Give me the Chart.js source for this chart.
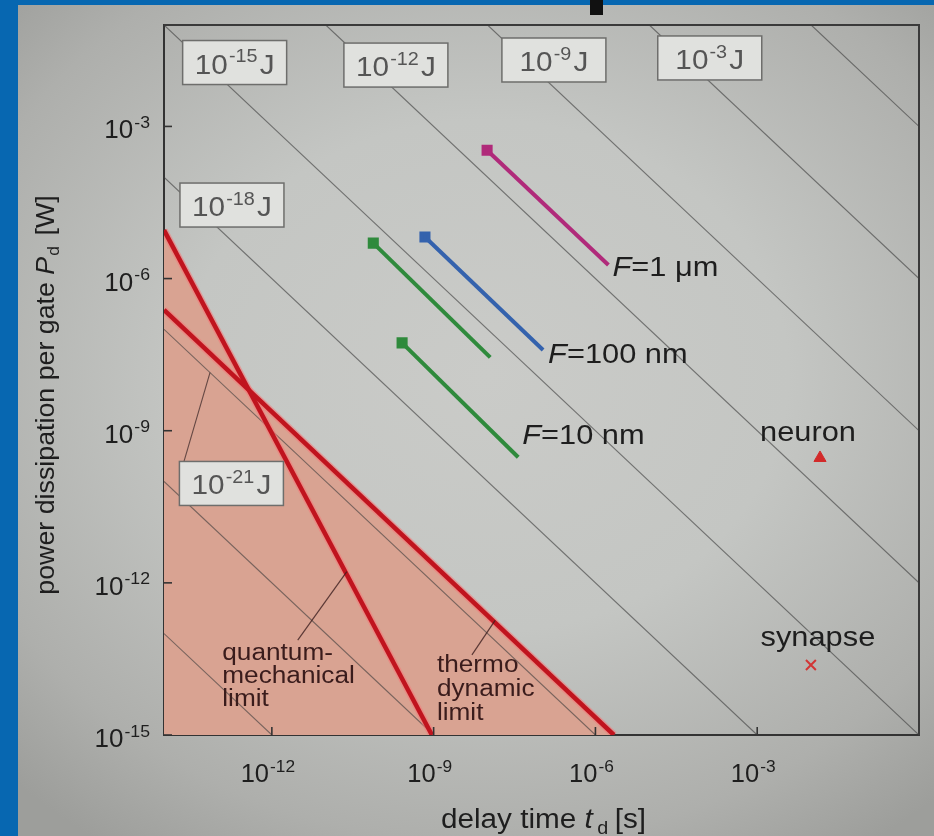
<!DOCTYPE html>
<html><head><meta charset="utf-8">
<script src="https://cdn.jsdelivr.net/npm/chart.js@4.4.1/dist/chart.umd.min.js"></script>
<style>
html,body{margin:0;padding:0;}
body{width:934px;height:836px;overflow:hidden;position:relative;
background:radial-gradient(ellipse 72% 68% at 52% 45%, #cacbc8 0%, #c4c6c3 45%, #aeafac 82%, #9d9e9b 100%);}
#blueL{position:absolute;left:0;top:0;width:18px;height:836px;background:#0767b1;}
#blueT{position:absolute;left:0;top:0;width:934px;height:5px;background:#0767b1;}
#blob{position:absolute;left:590px;top:0;width:13px;height:15px;background:#111;}
canvas{position:absolute;left:0;top:0;}
</style></head><body>
<div id="blueL"></div><div id="blueT"></div><div id="blob"></div>
<canvas id="c" width="934" height="836"></canvas>
<script>
// ---------------- data ----------------
const xTickExps = [-12, -9, -6, -3];
const yTickExps = [-3, -6, -9, -12, -15];

// constant-energy lines (J), endpoints where they meet the frame
const energyValues = [1e-27, 1e-24, 1e-21, 1e-18, 1e-15, 1e-12, 1e-9, 1e-6, 1e-3];
const energyStartT = [1e-14, 1e-14, 1e-14, 1e-14, 1e-14, 1e-11, 1e-8, 1e-5, 1e-2];
const energyStartP = [1e-13, 1e-10, 1e-7, 1e-4, 1e-1, 1e-1, 1e-1, 1e-1, 1e-1];
const energyEndT   = [1e-12, 1e-9, 1e-6, 1e-3, 1e0, 1e0, 1e0, 1e0, 1e0];
const energyEndP   = [1e-15, 1e-15, 1e-15, 1e-15, 1e-15, 1e-12, 1e-9, 1e-6, 1e-3];

// energy label boxes (exponent text as printed)
const energyBoxExp = ['-21', '-18', '-15', '-12', '-9', '-3'];

// limits
const qmLimitT = [1e-14, 9.3e-10];
const qmLimitP = [9e-6, 1e-15];
const thermoLimitT = [1e-14, 2.2e-6];
const thermoLimitP = [2.4e-7, 1e-15];

// technology lines
const techNames  = ['1 μm', '100 nm', '10 nm', '10 nm'];
const techColors = ['#b02a7a', '#3462ad', '#2f8a3c', '#2f8a3c'];
const techStartT = [9.8e-9, 6.9e-10, 7.6e-11, 2.6e-10];
const techStartP = [3.4e-4, 6.6e-6, 5.0e-6, 5.4e-8];
const techEndT   = [1.74e-6, 1.07e-7, 1.12e-8, 3.7e-8];
const techEndP   = [1.85e-6, 3.9e-8, 2.8e-8, 3.0e-10];

// biological references
const bioNames = ['neuron', 'synapse'];
const bioT = [1.46e-2, 9.9e-3];
const bioP = [2.9e-10, 2.4e-14];

// ---------------- layout (positions in log10 data space) ----------------
const boxLogT = [-12.75, -12.74, -12.69, -9.70, -6.77, -3.88];
const boxLogP = [-10.04, -4.55, -1.74, -1.79, -1.69, -1.65];
const FONT = '"Liberation Sans", Arial, Helvetica, sans-serif';

// ---------------- datasets ----------------
const datasets = [];
energyValues.forEach((e, i) => {
  datasets.push({
    data: [{x: energyStartT[i], y: energyStartP[i]}, {x: energyEndT[i], y: energyEndP[i]}],
    showLine: true, borderColor: 'rgba(60,60,60,0.62)', borderWidth: 1.1,
    pointRadius: 0, fill: false, order: 6
  });
});
const qmData = qmLimitT.map((t, i) => ({x: t, y: qmLimitP[i]}));
const thData = thermoLimitT.map((t, i) => ({x: t, y: thermoLimitP[i]}));
[qmData, thData].forEach(d => {
  datasets.push({data: d, showLine: true, borderColor: 'rgba(0,0,0,0)', borderWidth: 0,
    pointRadius: 0, fill: 'start', backgroundColor: '#d9a392', order: 7});
  datasets.push({data: d, showLine: true, borderColor: 'rgba(245,120,120,0.55)', borderWidth: 7.5,
    pointRadius: 0, fill: false, order: 4});
  datasets.push({data: d, showLine: true, borderColor: '#c0141e', borderWidth: 4.5,
    pointRadius: 0, fill: false, order: 3});
});
techNames.forEach((n, i) => {
  datasets.push({
    data: [{x: techStartT[i], y: techStartP[i]}, {x: techEndT[i], y: techEndP[i]}],
    showLine: true, borderColor: techColors[i], borderWidth: 4,
    pointRadius: [5, 0], pointStyle: 'rect', pointBackgroundColor: techColors[i],
    pointBorderColor: techColors[i], fill: false, order: 1
  });
});
datasets.push({data: [{x: bioT[0], y: bioP[0]}], pointStyle: 'triangle', pointRadius: 7,
  backgroundColor: '#d22a2a', borderColor: '#d22a2a', order: 0});
datasets.push({data: [{x: bioT[1], y: bioP[1]}], pointStyle: 'crossRot', pointRadius: 7,
  borderColor: '#d23535', borderWidth: 2, order: 0});

// ---------------- helpers ----------------
function measure(ctx, font, s) { ctx.font = font; return ctx.measureText(s).width; }
// draws a run of text segments, horizontally stretched by sx
function runs(ctx, segs, x, y, align, sx) {
  let w = 0; segs.forEach(s => { s.w = measure(ctx, s.f, s.t) + (s.gap || 0); w += s.w; });
  const W = w * sx;
  const x0 = align === 'right' ? x - W : align === 'center' ? x - W / 2 : x;
  ctx.save(); ctx.translate(x0, y); ctx.scale(sx, 1);
  ctx.textAlign = 'left';
  let cx = 0;
  segs.forEach(s => { ctx.font = s.f; ctx.fillText(s.t, cx, s.dy || 0); cx += s.w; });
  ctx.restore();
  return W;
}
function pow10(ctx, x, y, exp, align, fs, sx, suffix) {
  const sfs = Math.round(fs * 0.66);
  const segs = [{t: '10', f: fs + 'px ' + FONT, gap: 1},
                {t: String(exp), f: sfs + 'px ' + FONT, dy: -fs * 0.42, gap: suffix ? 2 : 0}];
  if (suffix) segs.push({t: suffix, f: fs + 'px ' + FONT});
  ctx.textBaseline = 'alphabetic';
  return runs(ctx, segs, x, y, align, sx);
}
function px(chart, lt, lp) {
  return [chart.scales.x.getPixelForValue(Math.pow(10, lt)), chart.scales.y.getPixelForValue(Math.pow(10, lp))];
}

const deco = {
  id: 'deco',
  afterDatasetsDraw(chart) {
    const {ctx, chartArea: a, scales: {x, y}} = chart;
    ctx.save();
    // frame top/right
    ctx.strokeStyle = '#3a3a3a'; ctx.lineWidth = 2;
    ctx.beginPath(); ctx.moveTo(a.left, a.top); ctx.lineTo(a.right, a.top); ctx.lineTo(a.right, a.bottom); ctx.stroke();
    // ticks (inside)
    ctx.strokeStyle = '#333'; ctx.lineWidth = 1.6;
    xTickExps.forEach(e => { const xp = x.getPixelForValue(Math.pow(10, e));
      ctx.beginPath(); ctx.moveTo(xp, a.bottom); ctx.lineTo(xp, a.bottom - 8); ctx.stroke(); });
    yTickExps.forEach(e => { const yp = y.getPixelForValue(Math.pow(10, e));
      ctx.beginPath(); ctx.moveTo(a.left, yp); ctx.lineTo(a.left + 8, yp); ctx.stroke(); });
    // tick labels
    ctx.fillStyle = '#1e1e1e';
    xTickExps.forEach(e => { const xp = x.getPixelForValue(Math.pow(10, e));
      pow10(ctx, xp - 4, a.bottom + 47, e, 'center', 25, 1.02); });
    yTickExps.forEach(e => { const yp = y.getPixelForValue(Math.pow(10, e));
      pow10(ctx, a.left - 14, yp + 12, e, 'right', 25, 1.04); });
    // axis titles
    ctx.fillStyle = '#1e1e1e';
    ctx.save();
    ctx.translate(47, 395); ctx.rotate(-Math.PI / 2);
    ctx.textBaseline = 'middle';
    runs(ctx, [
      {t: 'power dissipation per gate ', f: '26px ' + FONT},
      {t: 'P', f: 'italic 26px ' + FONT, gap: 1},
      {t: 'd', f: '17px ' + FONT, dy: 7, gap: 3},
      {t: ' [W]', f: '26px ' + FONT}
    ], 0, 0, 'center', 1.03);
    ctx.restore();
    ctx.textBaseline = 'alphabetic';
    runs(ctx, [
      {t: 'delay time ', f: '27px ' + FONT},
      {t: 't', f: 'italic 27px ' + FONT, gap: 4},
      {t: 'd', f: '18px ' + FONT, dy: 6, gap: 6},
      {t: '[s]', f: '27px ' + FONT}
    ], (a.left + a.right) / 2 + 2, 828, 'center', 1.1);
    // leader for 10^-21 J box
    ctx.strokeStyle = 'rgba(60,40,40,0.75)'; ctx.lineWidth = 1.1;
    {
      const [lx, ly] = px(chart, -13.147, -7.853);
      const [bx, by] = px(chart, boxLogT[0], boxLogP[0]);
      ctx.beginPath(); ctx.moveTo(lx, ly); ctx.lineTo(bx - 48, by - 20); ctx.stroke();
    }
    // energy boxes
    energyBoxExp.forEach((e, i) => {
      const [cx, cy] = px(chart, boxLogT[i], boxLogP[i]);
      const w = 104, h = 44;
      ctx.fillStyle = '#e0e1de'; ctx.fillRect(cx - w / 2, cy - h / 2, w, h);
      ctx.strokeStyle = '#6e6e6c'; ctx.lineWidth = 1.5; ctx.strokeRect(cx - w / 2, cy - h / 2, w, h);
      ctx.fillStyle = '#555';
      pow10(ctx, cx, cy + 11, e, 'center', 27, 1.1, 'J');
    });
    // limit labels + leaders
    ctx.strokeStyle = 'rgba(60,30,30,0.8)'; ctx.lineWidth = 1.2;
    {
      let [p1x, p1y] = px(chart, -11.52, -13.13), [p2x, p2y] = px(chart, -10.61, -11.78);
      ctx.beginPath(); ctx.moveTo(p1x, p1y); ctx.lineTo(p2x, p2y); ctx.stroke();
      [p1x, p1y] = px(chart, -8.29, -13.42); [p2x, p2y] = px(chart, -7.86, -12.74);
      ctx.beginPath(); ctx.moveTo(p1x, p1y); ctx.lineTo(p2x, p2y); ctx.stroke();
    }
    ctx.fillStyle = '#3a1c1c'; ctx.textBaseline = 'middle';
    {
      const [qx, qy] = px(chart, -12.92, -13.36);
      ['quantum-', 'mechanical', 'limit'].forEach((s, k) => runs(ctx, [{t: s, f: '23px ' + FONT}], qx, qy + 2 + k * 23, 'left', 1.14));
      const [tx, ty] = px(chart, -8.94, -13.62);
      ['thermo', 'dynamic', 'limit'].forEach((s, k) => runs(ctx, [{t: s, f: '23px ' + FONT}], tx, ty + 1 + k * 24, 'left', 1.14));
    }
    // technology labels
    const offs = [[4, 3], [5, 5], null, [4, -21]];
    ctx.fillStyle = '#1e1e1e'; ctx.textBaseline = 'middle';
    techNames.forEach((n, i) => {
      if (!offs[i]) return;
      const ex = x.getPixelForValue(techEndT[i]), ey = y.getPixelForValue(techEndP[i]);
      runs(ctx, [{t: 'F', f: 'italic 28px ' + FONT}, {t: '=' + n, f: '28px ' + FONT}],
        ex + offs[i][0], ey + offs[i][1], 'left', 1.1);
    });
    // bio labels
    const boffs = [[-12, -25], [7, -27]];
    bioNames.forEach((n, i) => {
      const bx = x.getPixelForValue(bioT[i]), by = y.getPixelForValue(bioP[i]);
      runs(ctx, [{t: n, f: '28px ' + FONT}], bx + boffs[i][0], by + boffs[i][1], 'center', 1.1);
    });
    ctx.restore();
  }
};

new Chart(document.getElementById('c').getContext('2d'), {
  type: 'scatter',
  data: {datasets},
  options: {
    responsive: false, animation: false, devicePixelRatio: 1,
    layout: {padding: {left: 164, right: 15, top: 25, bottom: 101}},
    plugins: {legend: {display: false}, tooltip: {enabled: false}, filler: {drawTime: 'beforeDatasetsDraw'}},
    scales: {
      x: {type: 'logarithmic', min: 1e-14, max: 1, z: 1,
        ticks: {display: false}, grid: {display: false, drawTicks: false},
        border: {display: true, color: '#333', width: 2}},
      y: {type: 'logarithmic', min: 1e-15, max: 1e-1, z: 1,
        ticks: {display: false}, grid: {display: false, drawTicks: false},
        border: {display: true, color: '#333', width: 2}}
    }
  },
  plugins: [deco]
});
</script>
</body></html>
